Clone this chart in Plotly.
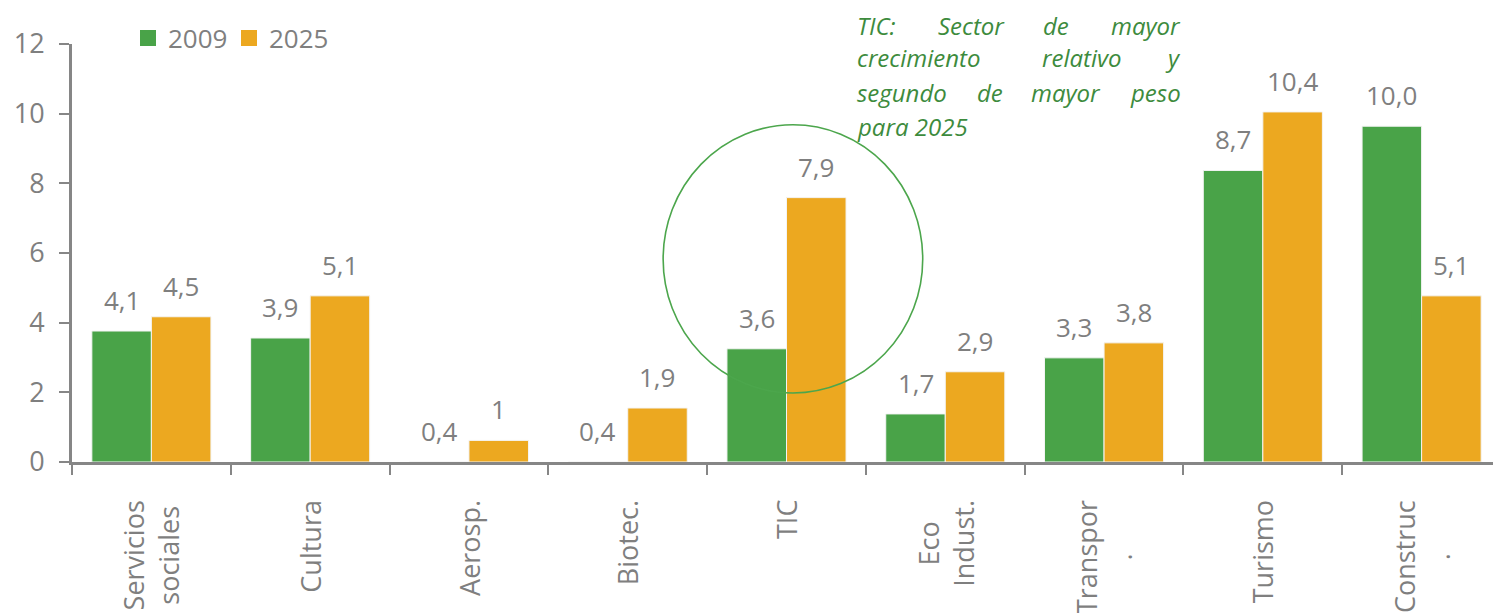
import plotly.graph_objects as go

# ---------------- data ----------------
categories = ["Servicios sociales", "Cultura", "Aerosp.", "Biotec.", "TIC",
              "Eco Indust.", "Transpor.", "Turismo", "Construc."]
category_labels = ["Servicios<br>sociales", "Cultura", "Aerosp.", "Biotec.", "TIC",
                   "Eco<br>Indust.", "Transpor<br>.", "Turismo", "Construc<br>."]
series_names = ["2009", "2025"]
values_2009 = [3.76, 3.56, 0.0, 0.0, 3.25, 1.38, 2.99, 8.37, 9.64]
values_2025 = [4.17, 4.77, 0.62, 1.55, 7.59, 2.59, 3.42, 10.05, 4.77]
labels_2009 = ["4,1", "3,9", "0,4", "0,4", "3,6", "1,7", "3,3", "8,7", "10,0"]
labels_2025 = ["4,5", "5,1", "1", "1,9", "7,9", "2,9", "3,8", "10,4", "5,1"]
y_ticks = [0, 2, 4, 6, 8, 10, 12]

note_lines = [
    ["TIC:", "Sector", "de", "mayor"],
    ["crecimiento", "relativo", "y"],
    ["segundo", "de", "mayor", "peso"],
    ["para 2025"],
]

# ---------------- style ----------------
GREEN = "#49A348"
ORANGE = "#ECA820"
GRAY = "#7f7f7f"
AXIS = "#868686"
NOTE = "#3d8b3d"
FONT = "Open Sans"

OFF = 8  # page body margin
W, H = 1501 - OFF, 613 - OFF
PL, PT, PB = 72, 44, 462          # plot-area edges in window pixels
ML, MR, MT = PL - OFF, 0, PT - OFF
MB = H - (PB - OFF)
PW, PH = W - ML - MR, H - MT - MB


def px_x(p):
    return (p - PL) / PW


def px_y(p):
    return (PB - p) / PH


BARGAP = 0.25
half = (1 - BARGAP) / 4  # center offset of each bar from category center

fig = go.Figure()
fig.add_trace(go.Bar(x=categories, y=values_2009, name=series_names[0],
                     marker=dict(color=GREEN, line=dict(color="#f4f4f4", width=1)),
                     showlegend=False))
fig.add_trace(go.Bar(x=categories, y=values_2025, name=series_names[1],
                     marker=dict(color=ORANGE, line=dict(color="#f4f4f4", width=1)),
                     showlegend=False))
# legend entries
for nm, col in zip(series_names, [GREEN, ORANGE]):
    fig.add_trace(go.Scatter(x=[None], y=[None], mode="markers", name=nm,
                             marker=dict(symbol="square", size=16, color=col)))

annotations = []
# data labels
for i in range(len(categories)):
    for off, vals, labs in ((-half, values_2009, labels_2009), (half, values_2025, labels_2025)):
        annotations.append(dict(x=i + off, y=vals[i], xref="x", yref="y", text=labs[i],
                                showarrow=False, yanchor="bottom", xanchor="center", yshift=11,
                                font=dict(family=FONT, size=26, color=GRAY)))
# category labels (rotated, centred lines)
for i, lab in enumerate(category_labels):
    annotations.append(dict(x=i, y=0, xref="x", yref="y", text=lab, showarrow=False,
                            textangle=-90, align="center", xanchor="center", yanchor="top",
                            yshift=-36, font=dict(family=FONT, size=27, color=GRAY)))

# justified note text, word by word
note_word_px = [
    [(855, "left"), (971, "center"), (1056, "center"), (1183, "right")],
    [(855, "left"), (1082, "center"), (1183, "right")],
    [(855, "left"), (990, "center"), (1066, "center"), (1183, "right")],
    [(855, "left")],
]
note_line_py = [25, 58, 92, 126]
for words, pos, py in zip(note_lines, note_word_px, note_line_py):
    for w, (pxv, anc) in zip(words, pos):
        annotations.append(dict(x=px_x(pxv), y=px_y(py), xref="paper", yref="paper", text=w,
                                showarrow=False, xanchor=anc, yanchor="middle",
                                font=dict(family=FONT, size=24, color=NOTE, style="italic")))

fig.update_layout(
    width=W, height=H,
    margin=dict(l=ML, r=MR, t=MT, b=MB, pad=0),
    paper_bgcolor="white", plot_bgcolor="white",
    barmode="group", bargap=BARGAP, bargroupgap=0,
    font=dict(family=FONT, color=GRAY),
    showlegend=True,
    legend=dict(orientation="h", x=px_x(128), y=px_y(38), xanchor="left", yanchor="middle",
                font=dict(family=FONT, size=26, color=GRAY),
                entrywidth=56, entrywidthmode="pixels", bgcolor="rgba(0,0,0,0)",
                itemclick=False),
    xaxis=dict(type="category", showticklabels=False, showline=True, linecolor=AXIS,
               linewidth=3, ticks="outside", tickson="boundaries", ticklen=10, tickwidth=2,
               tickcolor=AXIS, showgrid=False, zeroline=False, fixedrange=True),
    yaxis=dict(range=[0, 12], tickvals=y_ticks, ticktext=[str(v) for v in y_ticks],
               showline=True, linecolor=AXIS, linewidth=3, ticks="outside", ticklen=10,
               tickwidth=2, tickcolor=AXIS, showgrid=False, zeroline=False,
               tickfont=dict(family=FONT, size=27, color=GRAY), ticklabelstandoff=9,
               fixedrange=True),
    annotations=annotations,
    shapes=[dict(type="circle", xref="x", yref="y", x0=3.223, x1=4.858, y0=1.98, y1=9.68,
                 line=dict(color="#4ca64c", width=1.6), layer="above")],
)

fig.write_html("out.html")
